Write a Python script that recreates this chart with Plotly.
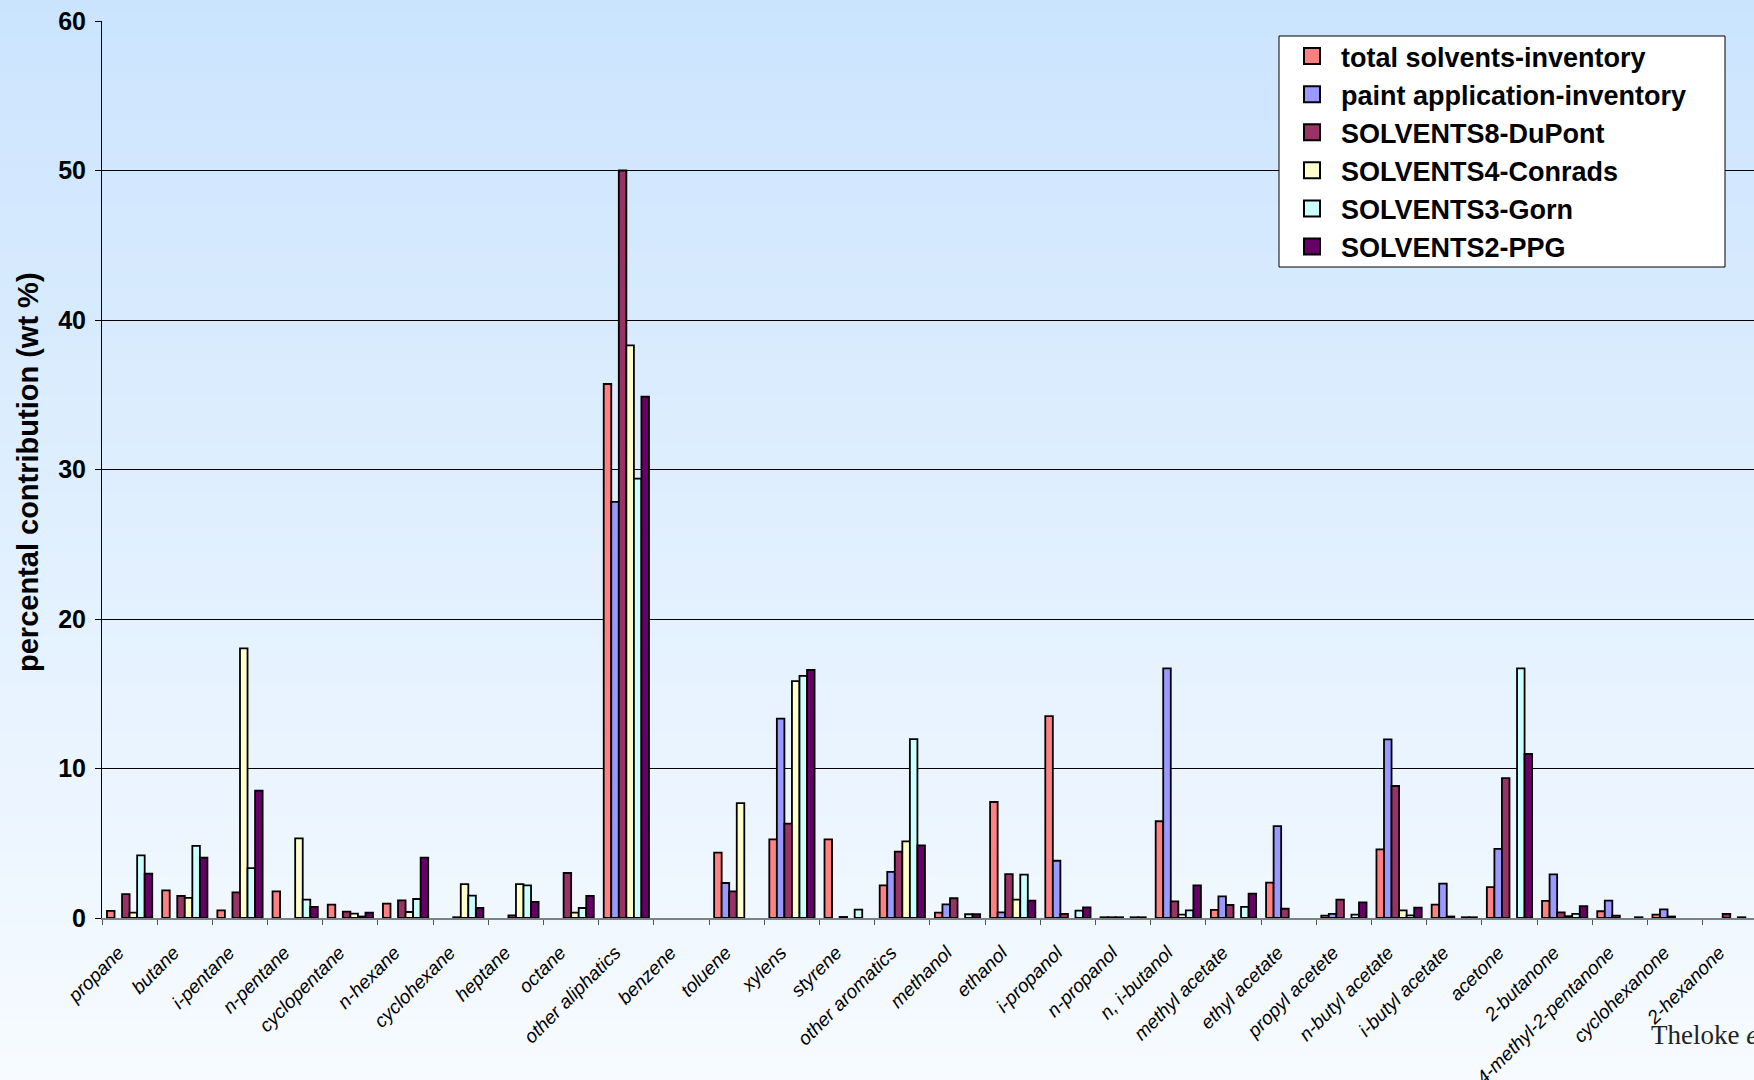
import plotly.graph_objects as go

categories = ["propane", "butane", "i-pentane", "n-pentane", "cyclopentane", "n-hexane",
              "cyclohexane", "heptane", "octane", "other aliphatics", "benzene", "toluene",
              "xylens", "styrene", "other aromatics", "methanol", "ethanol", "i-propanol",
              "n-propanol", "n, i-butanol", "methyl acetate", "ethyl acetate", "propyl acetete",
              "n-butyl acetate", "i-butyl acetate", "acetone", "2-butanone",
              "4-methyl-2-pentanone", "cyclohexanone", "2-hexanone"]

total_solvents = [0.47, 1.85, 0.51, 1.78, 0.89, 0.96, None, None, None, 35.72, None, 4.37,
                  5.26, 5.26, 2.18, 0.36, 7.76, 13.51, 0.05, 6.47, 0.54, 2.36, 0.16,
                  4.59, 0.89, 2.07, 1.14, 0.45, 0.22, None]
paint_application = [None, None, None, None, None, None, None, None, None, 27.83, None, 2.34,
                     13.33, None, 3.08, 0.91, 0.38, 3.83, 0.05, 16.7, 1.45, 6.15, 0.27,
                     11.95, 2.3, 4.62, 2.92, 1.16, 0.58, None]
dupont = [1.6, 1.47, 1.72, None, 0.42, 1.18, 0.05, 0.18, 3.01, 50.0, None, 1.78,
          6.31, 0.07, 4.44, 1.32, 2.94, 0.27, 0.05, 1.11, 0.87, 0.62, 1.23,
          8.83, 0.1, 9.36, 0.38, 0.16, 0.1, 0.27]
conrads = [0.36, 1.34, 18.04, 5.33, 0.29, 0.4, 2.27, 2.27, 0.36, 38.3, None, 7.69,
           15.85, None, 5.13, None, 1.23, None, None, 0.22, None, None, None,
           0.51, None, None, 0.13, None, None, None]
gorn = [4.19, 4.82, 3.34, 1.23, 0.1, 1.27, 1.49, 2.18, 0.67, 29.39, None, None,
        16.19, 0.56, 11.97, 0.25, 2.9, 0.49, 0.05, 0.51, 0.74, None, 0.22,
        0.18, 0.05, 16.7, 0.27, None, None, 0.05]
ppg = [2.97, 4.04, 8.52, 0.74, 0.36, 4.04, 0.67, 1.07, 1.47, 34.88, None, None,
       16.59, None, 4.86, 0.25, 1.16, 0.71, 0.05, 2.18, 1.63, None, 1.05,
       0.69, 0.05, 10.97, 0.8, 0.05, None, None]

series_names = ["total solvents-inventory", "paint application-inventory",
                "SOLVENTS8-DuPont", "SOLVENTS4-Conrads", "SOLVENTS3-Gorn", "SOLVENTS2-PPG"]
series_values = [total_solvents, paint_application, dupont, conrads, gorn, ppg]
series_colors = ["#FF8080", "#9999FF", "#993366", "#FFFFCC", "#CCFFFF", "#660066"]

y_ticks = [0, 10, 20, 30, 40, 50, 60]

W, H = 1754, 1080
ML, MT, MB, MR = 102, 21, 162, 0
PW, PH = W - ML - MR, H - MT - MB

FONT = "Liberation Sans, Arial, sans-serif"

fig = go.Figure()
for name, vals, col in zip(series_names, series_values, series_colors):
    fig.add_trace(go.Bar(
        x=categories, y=vals, name=name, legendgroup=name, showlegend=False,
        marker=dict(color=col, line=dict(color="black", width=1.8)),
    ))
# legend entries with larger square swatches
for name, col in zip(series_names, series_colors):
    fig.add_trace(go.Scatter(
        x=[None], y=[None], name=name, legendgroup=name, mode="markers",
        marker=dict(symbol="square", size=16, color=col, line=dict(color="black", width=2)),
        hoverinfo="skip",
    ))

def px2paper_x(px):
    return (px - ML) / PW

def px2paper_y(py):
    return (H - MB - py) / PH

# vertical background gradient
shapes = []
n = 90
top = (203, 228, 254)
bot = (247, 251, 255)
for i in range(n):
    y0 = i * H / n
    y1 = (i + 1) * H / n + 1
    t = (i + 0.5) / n
    c = tuple(round(top[k] + (bot[k] - top[k]) * t) for k in range(3))
    shapes.append(dict(type="rect", xref="paper", yref="paper", layer="below",
                       x0=px2paper_x(-2), x1=px2paper_x(W + 2),
                       y0=px2paper_y(y1), y1=px2paper_y(y0),
                       line=dict(width=0), fillcolor="rgb(%d,%d,%d)" % c))
# legend box
shapes.append(dict(type="rect", xref="paper", yref="paper", layer="above",
                   x0=px2paper_x(1279), x1=px2paper_x(1725),
                   y0=px2paper_y(267), y1=px2paper_y(36),
                   line=dict(color="black", width=1), fillcolor="white"))

fig.update_layout(
    width=W, height=H,
    margin=dict(l=ML, r=MR, t=MT, b=MB, autoexpand=False),
    paper_bgcolor="rgba(0,0,0,0)", plot_bgcolor="rgba(0,0,0,0)",
    barmode="group", bargap=0.18, bargroupgap=0,
    shapes=shapes,
    font=dict(family=FONT, color="black"),
    showlegend=True,
    legend=dict(x=px2paper_x(1283), y=px2paper_y(32), xanchor="left", yanchor="top",
                bgcolor="rgba(0,0,0,0)", borderwidth=0, itemsizing="trace",
                font=dict(size=27, family=FONT, weight="bold", color="black"),
                itemwidth=48, traceorder="normal"),
    xaxis=dict(range=[-0.5, 29.43], tickson="boundaries", ticks="outside", ticklen=5,
               tickcolor="#555555", tickangle=-45, showline=True, linecolor="#808080",
               linewidth=2, showgrid=False, ticklabelstandoff=14, ticklabelshift=-11,
               tickfont=dict(size=19, style="italic", color="black", family=FONT)),
    yaxis=dict(range=[0, 60], tickvals=y_ticks, ticks="outside", ticklen=6,
               tickcolor="black", showline=True, linecolor="black", linewidth=1,
               showgrid=True, gridcolor="black", gridwidth=1, zeroline=False,
               ticklabelstandoff=4,
               tickfont=dict(size=25, weight="bold", color="black", family=FONT)),
    annotations=[
        dict(text="percental contribution (wt %)", textangle=-90, showarrow=False,
             xref="paper", yref="paper", x=px2paper_x(28), y=px2paper_y(472),
             xanchor="center", yanchor="middle",
             font=dict(size=29, weight="bold", color="black", family=FONT)),
        dict(text="Theloke <i>et al.</i>", showarrow=False, xref="paper", yref="paper",
             x=px2paper_x(1649), y=px2paper_y(1035), xanchor="left", yanchor="middle",
             font=dict(size=27, color="#222222", family="Liberation Serif, serif")),
    ],
)

fig.write_html("out.html")
